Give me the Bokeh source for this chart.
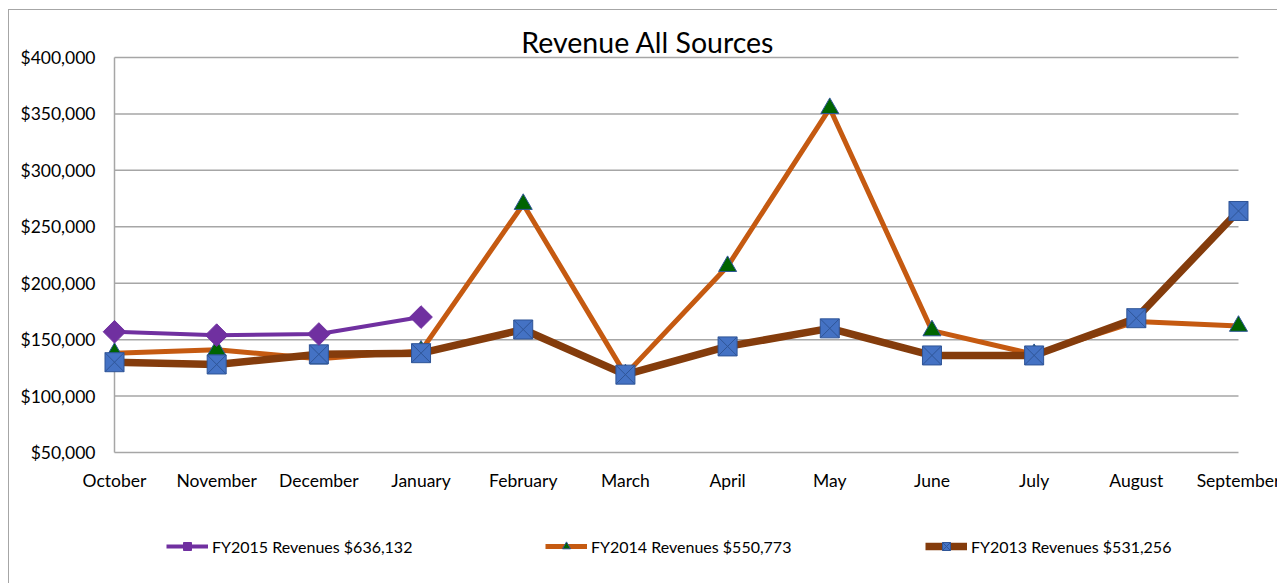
import math
from bokeh.plotting import figure
from bokeh.models import Range1d, ColumnDataSource, Legend, LegendItem
from bokeh.core.properties import value
from bokeh.embed import file_html
from bokeh.resources import INLINE

# ---- data ----
months = ["October", "November", "December", "January", "February", "March",
          "April", "May", "June", "July", "August", "September"]
fy2015 = [157000, 154000, 155000, 170000]
fy2014 = [138000, 141000, 133000, 140000, 270000, 119000, 215000, 355000,
          158000, 137000, 166000, 162000]
fy2013 = [130000, 128000, 137000, 138000, 159000, 119000, 144000, 160000,
          136000, 136000, 169000, 264000]
label_2015 = "FY2015 Revenues $636,132"
label_2014 = "FY2014 Revenues $550,773"
label_2013 = "FY2013 Revenues $531,256"
title_text = "Revenue  All Sources"
y_ticks = [50000, 100000, 150000, 200000, 250000, 300000, 350000, 400000]
y_tick_labels = ["${:,}".format(v) for v in y_ticks]

FONT = "Lato"
GRID = "#a6a6a6"

# ---- layout geometry (pixels) ----
PX_X = 102.18                 # pixels per category step
PX_Y = 56.43 / 50000.0        # pixels per dollar
LEFT_PX = 105                 # frame extends left of October (to the chart border)
RIGHT_PX = 40                 # frame extends right of September to page edge
BELOW_PX = 132                # frame extends below $50,000 to hold labels and legend
ABOVE_PX = 47                 # frame extends above $400,000 to hold the title
LABEL_DROP_PX = 28            # month labels below the $50,000 line
YLABEL_GAP_PX = 19            # value labels' right edge left of the value axis
TITLE_RAISE_PX = 15           # title middle above the $400,000 line
TITLE_CENTER_PX = 537         # title centre, right of the value axis

n = len(months)
x0 = -LEFT_PX / PX_X
x1 = n - 1 + RIGHT_PX / PX_X
y0 = y_ticks[0] - BELOW_PX / PX_Y
y1 = y_ticks[-1] + ABOVE_PX / PX_Y
month_label_y = y_ticks[0] - LABEL_DROP_PX / PX_Y
ylabel_x = -YLABEL_GAP_PX / PX_X
title_x = TITLE_CENTER_PX / PX_X
title_y = y_ticks[-1] + TITLE_RAISE_PX / PX_Y

p = figure(width=1269, height=574, output_backend="svg", toolbar_location=None,
           x_axis_location=None, y_axis_location=None,
           x_range=Range1d(x0, x1), y_range=Range1d(y0, y1),
           min_border_left=0, min_border_right=0, min_border_top=0,
           min_border_bottom=0)
p.styles = {"margin-left": "8px", "margin-top": "9px",
            "border-left": "1px solid #a6a6a6", "border-top": "1px solid #a6a6a6"}
p.outline_line_color = None
p.xgrid.grid_line_color = None
p.ygrid.grid_line_color = None

# title
p.text(x=[title_x], y=[title_y], text=[title_text],
       text_font=value(FONT), text_font_size="28.5px", text_color="#000000",
       text_align="center", text_baseline="middle")

# gridlines and value-axis line spanning the category extent
p.segment(x0=[0] * len(y_ticks), x1=[n - 1] * len(y_ticks), y0=y_ticks, y1=y_ticks,
          line_color=GRID, line_width=1.5)
p.segment(x0=[0], x1=[0], y0=[y_ticks[0]], y1=[y_ticks[-1]],
          line_color=GRID, line_width=1.5)

# value labels
p.text(x=[ylabel_x] * len(y_ticks), y=y_ticks, text=y_tick_labels,
       text_font=value(FONT), text_font_size="17.5px", text_color="#000000",
       text_align="right", text_baseline="middle")

# category labels
p.text(x=list(range(n)), y=[month_label_y] * n, text=months,
       text_font=value(FONT), text_font_size="17.5px", text_color="#000000",
       text_align="center", text_baseline="middle")

x_all = list(range(n))
s2014 = ColumnDataSource(dict(x=x_all, y=fy2014))
s2013 = ColumnDataSource(dict(x=x_all, y=fy2013))
s2015 = ColumnDataSource(dict(x=x_all[:len(fy2015)], y=fy2015))

l14 = p.line("x", "y", source=s2014, line_color="#C55A11", line_width=5)
m14 = p.scatter("x", "y", source=s2014, marker="triangle", size=18,
                fill_color="#006400", line_color="#2F5597", line_width=1)
l13 = p.line("x", "y", source=s2013, line_color="#843C0C", line_width=7.5)
m13 = p.scatter("x", "y", source=s2013, marker="square_x", size=19,
                fill_color="#4472C4", line_color="#2F5597", line_width=1)
l15 = p.line("x", "y", source=s2015, line_color="#7030A0", line_width=4)
m15 = p.scatter("x", "y", source=s2015, marker="square", size=16, angle=math.pi / 4,
                fill_color="#7030A0", line_color="#7030A0", line_width=1)

def add_legend(label, renderers, xloc):
    leg = Legend(items=[LegendItem(label=label, renderers=renderers)],
                 location=(xloc, 28), orientation="horizontal",
                 padding=0, margin=0, spacing=0,
                 glyph_width=42, glyph_height=20, label_standoff=4,
                 border_line_color=None, background_fill_alpha=0,
                 label_text_font=FONT, label_text_font_size="16px",
                 label_text_color="#000000")
    p.add_layout(leg, "center")

add_legend(label_2015, [l15, m15], 166 - 9)
add_legend(label_2014, [l14, m14], 545 - 9)
add_legend(label_2013, [l13, m13], 925 - 9)

open("out.html", "w").write(file_html(p, INLINE))
